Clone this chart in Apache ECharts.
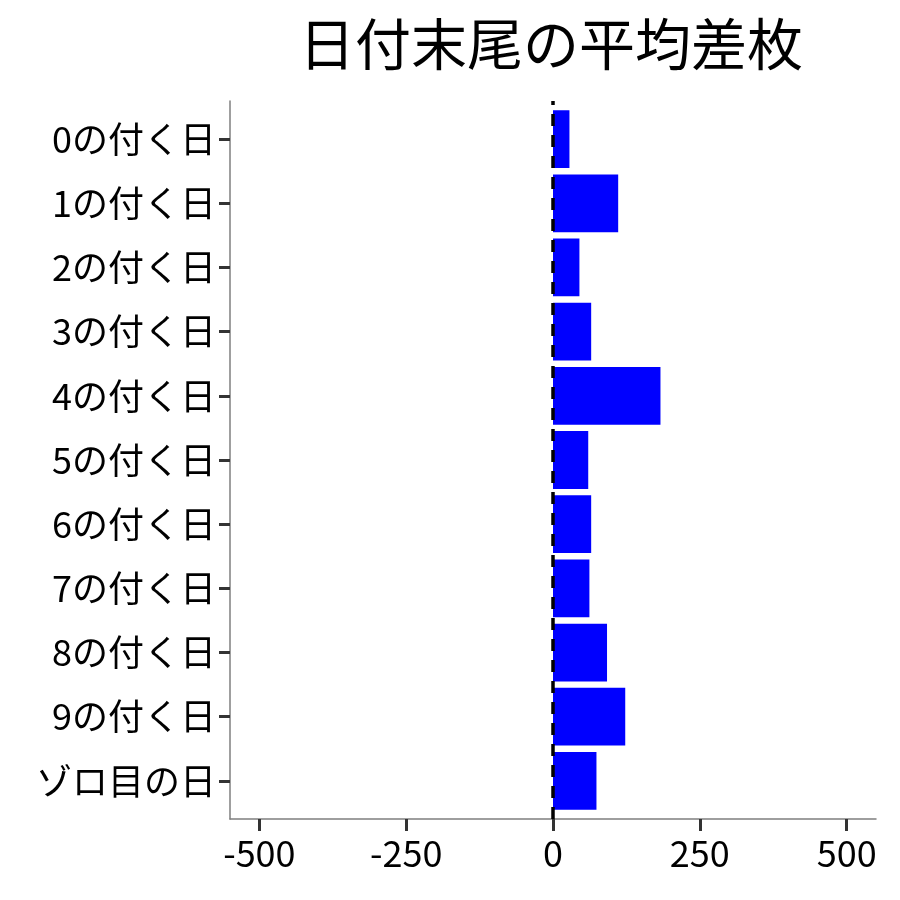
<!DOCTYPE html>
<html lang="ja">
<head>
    <meta charset="UTF-8">
    <title>日付末尾の平均差枚</title>
    <style>
        html, body { margin: 0; padding: 0; background: #fff; }
        #chart { width: 900px; height: 900px; }
    </style>
    <script src="https://cdn.jsdelivr.net/npm/echarts@6.0.0/dist/echarts.min.js"></script>
</head>
<body>
    <div id="chart"></div>
    <script type="text/javascript">
        // categories, top to bottom
        var dayLabels = ['0の付く日', '1の付く日', '2の付く日', '3の付く日', '4の付く日',
                         '5の付く日', '6の付く日', '7の付く日', '8の付く日', '9の付く日', 'ゾロ目の日'];
        // average difference (枚)
        var avgDiff = [28, 111, 45, 65, 183, 60, 65, 62, 92, 123, 74];
        var xTicks = [-500, -250, 0, 250, 500];

        var font = '"Noto Sans CJK JP", "Noto Sans", sans-serif';
        var chart = echarts.init(document.getElementById('chart'));

        var option = {
            animation: false,
            title: {
                text: '日付末尾の平均差枚',
                left: 546,
                textAlign: 'center',
                top: 11,
                textStyle: { fontFamily: font, fontSize: 56, fontWeight: 'normal', color: '#000' }
            },
            grid: [
                { left: 230, right: 24, top: 107, bottom: 87 },   // bars
                { left: 230, right: 24, top: 101, bottom: 81 }    // panel frame + zero line
            ],
            xAxis: [{
                gridIndex: 0,
                type: 'value',
                min: -550,
                max: 550,
                interval: 250,
                axisLine: { show: false },
                axisTick: { show: false },
                splitLine: { show: false },
                axisLabel: { show: false }
            }, {
                gridIndex: 1,
                type: 'value',
                min: -550,
                max: 550,
                axisLine: { show: true, onZero: false, lineStyle: { color: '#7f7f7f', width: 1.5 } },
                axisTick: {
                    show: true, length: 12,
                    customValues: xTicks,
                    lineStyle: { color: '#333', width: 3 }
                },
                splitLine: { show: false },
                axisLabel: {
                    show: true, margin: 16,
                    customValues: xTicks,
                    fontFamily: font, fontSize: 36, color: '#000'
                }
            }],
            yAxis: [{
                gridIndex: 0,
                type: 'category',
                data: dayLabels,
                inverse: true,
                axisLine: { show: false, onZero: false },
                axisTick: {
                    show: true, alignWithLabel: true, length: 11,
                    lineStyle: { color: '#333', width: 3 }
                },
                axisLabel: { fontFamily: font, fontSize: 36, color: '#000', margin: 14 }
            }, {
                gridIndex: 1,
                type: 'value',
                min: 0,
                max: 1,
                axisLine: { show: true, onZero: false, lineStyle: { color: '#7f7f7f', width: 1.5 } },
                axisTick: { show: false },
                axisLabel: { show: false },
                splitLine: { show: false }
            }],
            series: [{
                type: 'bar',
                xAxisIndex: 0,
                yAxisIndex: 0,
                data: avgDiff,
                barWidth: '90%',
                itemStyle: { color: '#0000ff' }
            }, {
                type: 'scatter',
                xAxisIndex: 1,
                yAxisIndex: 1,
                data: [],
                z: 5,
                markLine: {
                    silent: true,
                    symbol: ['none', 'none'],
                    label: { show: false },
                    lineStyle: { color: '#000', width: 3.5, type: [12, 9] },
                    data: [{ xAxis: 0 }]
                }
            }]
        };
        chart.setOption(option);
    </script>
</body>
</html>
